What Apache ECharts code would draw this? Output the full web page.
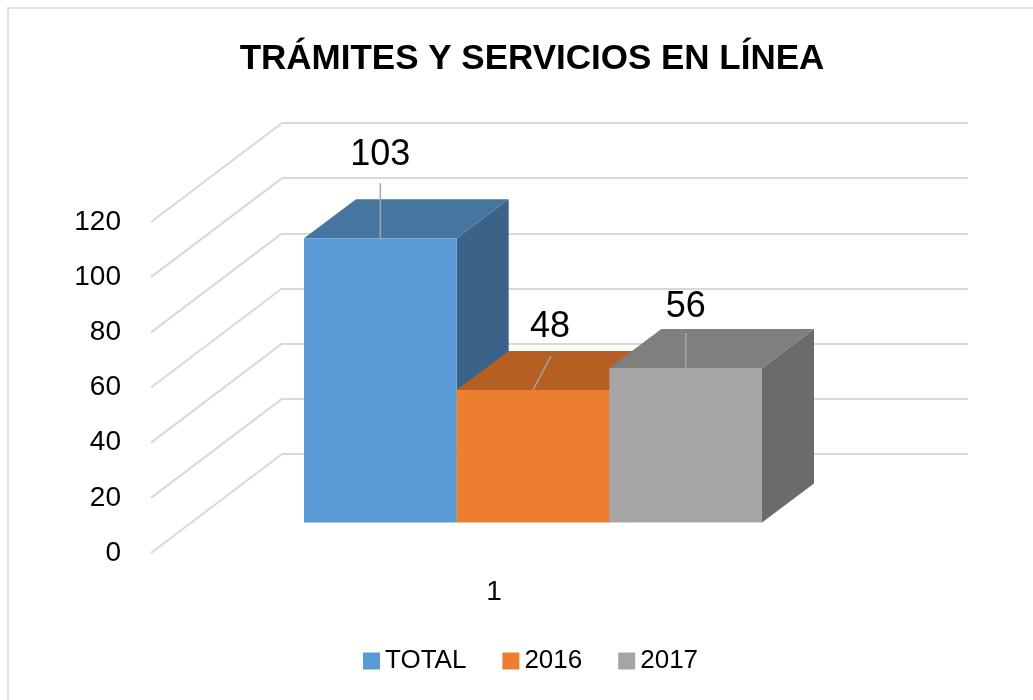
<!DOCTYPE html>
<html>
<head>
<meta charset="utf-8">
<script src="https://cdn.jsdelivr.net/npm/echarts@6/dist/echarts.min.js"></script>
<style>
  html, body { margin: 0; padding: 0; background: #ffffff; }
  #chart { width: 1033px; height: 700px; }
</style>
</head>
<body>
<div id="chart"></div>
<script>
// ---- data ----
const titleText = 'TRÁMITES Y SERVICIOS EN LÍNEA';
const categories = ['1'];
const seriesNames = ['TOTAL', '2016', '2017'];
const totalValues = [103];
const values2016 = [48];
const values2017 = [56];
const yTicks = [0, 20, 40, 60, 80, 100, 120];

// ---- styling / geometry (not data) ----
const FONT = "'Liberation Sans', Arial, sans-serif";
const WALL_DX = -131, WALL_DY = 99;   // back wall -> front edge of floor
const BAR_DX = 52, BAR_DY = -39;      // depth of a bar
const barStyles = [
  { front: '#5B9BD5', top: '#4675A0', side: '#3B6389', lead: [0, -55], label: [0, -83] },
  { front: '#ED7D31', top: '#B55F23', side: '#A9561F', lead: [18, -34], label: [17, -63] },
  { front: '#A5A5A5', top: '#7F7F7F', side: '#6B6B6B', lead: [0, -35], label: [0, -61] }
];
const seriesValues = [totalValues, values2016, values2017];

const chart = echarts.init(document.getElementById('chart'), null, { renderer: 'canvas' });

function barRenderer(k) {
  return function (params, api) {
    const st = barStyles[k];
    const base = api.coord([api.value(0), 0]);
    const top = api.coord([api.value(0), api.value(1)]);
    const band = api.size([1, 0])[0];
    const w = band / 3;
    const x0 = base[0] - band / 2 + k * w;
    const x1 = x0 + w;
    const yb = base[1];
    const yt = top[1];
    const cx = (x0 + x1) / 2;
    return {
      type: 'group',
      children: [
        { type: 'polygon', shape: { points: [[x1, yt], [x1 + BAR_DX, yt + BAR_DY], [x1 + BAR_DX, yb + BAR_DY], [x1, yb]] },
          style: { fill: st.side } },
        { type: 'polygon', shape: { points: [[x0, yt], [x0 + BAR_DX, yt + BAR_DY], [x1 + BAR_DX, yt + BAR_DY], [x1, yt]] },
          style: { fill: st.top } },
        { type: 'rect', shape: { x: x0, y: yt, width: w, height: yb - yt },
          style: { fill: st.front } },
        { type: 'line', shape: { x1: cx, y1: yt, x2: cx + st.lead[0], y2: yt + st.lead[1] },
          style: { stroke: '#a6a6a6', lineWidth: 1.5 } },
        { type: 'text', x: cx + st.label[0], y: yt + st.label[1],
          style: { text: String(api.value(1)), fontSize: 36, fontFamily: FONT, fill: '#000',
                   align: 'center', verticalAlign: 'middle' } }
      ]
    };
  };
}

const series = [
  {
    name: 'wall',
    type: 'custom',
    xAxisIndex: 0, yAxisIndex: 0,
    silent: true,
    data: yTicks.map(v => [0, v]),
    renderItem: function (params, api) {
      const p = api.coord([0, api.value(1)]);
      return { type: 'line', shape: { x1: p[0], y1: p[1], x2: p[0] + WALL_DX, y2: p[1] + WALL_DY },
               style: { stroke: '#d9d9d9', lineWidth: 2 } };
    }
  }
];
seriesNames.forEach((name, k) => {
  series.push({
    name: name,
    type: 'custom',
    xAxisIndex: 2, yAxisIndex: 2,
    silent: true,
    itemStyle: { color: barStyles[k].front },
    encode: { x: 0, y: 1 },
    data: seriesValues[k].map((v, i) => [categories[i], v]),
    renderItem: barRenderer(k)
  });
});

const option = {
  animation: false,
  backgroundColor: '#ffffff',
  color: barStyles.map(s => s.front),
  title: {
    text: titleText,
    left: 527, top: 37,
    textAlign: 'center',
    textStyle: { fontSize: 35, fontWeight: 'bold', fontFamily: FONT, color: '#000' }
  },
  legend: {
    data: seriesNames,
    icon: 'rect',
    itemWidth: 17, itemHeight: 17,
    itemGap: 36,
    left: 358, top: 643,
    textStyle: { fontSize: 26, fontFamily: FONT, color: '#000' }
  },
  graphic: [
    { type: 'rect', shape: { x: 8, y: 8, width: 1040, height: 720 },
      style: { fill: 'none', stroke: '#d9d9d9', lineWidth: 1.5 }, z: -10, silent: true }
  ],
  grid: [
    { left: 282, right: 65, top: 123, bottom: 246 },
    { left: 151, right: 196, top: 222, bottom: 147 },
    { left: 304, right: 271, top: 191.25, bottom: 177.5 }
  ],
  xAxis: [
    { gridIndex: 0, type: 'value', min: 0, max: 1, show: false },
    { gridIndex: 1, type: 'category', data: categories,
      axisLine: { show: false }, axisTick: { show: false },
      axisLabel: { fontSize: 28, fontFamily: FONT, color: '#000', margin: 25 } },
    { gridIndex: 2, type: 'category', data: categories, show: false }
  ],
  yAxis: [
    { gridIndex: 0, type: 'value', min: 0, max: 120, interval: 20,
      axisLabel: { show: false }, axisLine: { show: false }, axisTick: { show: false },
      splitLine: { show: true, lineStyle: { color: '#d9d9d9', width: 2 } } },
    { gridIndex: 1, type: 'value', min: 0, max: 120, interval: 20,
      axisLine: { show: false }, axisTick: { show: false }, splitLine: { show: false },
      axisLabel: { fontSize: 28, fontFamily: FONT, color: '#000', margin: 30 } },
    { gridIndex: 2, type: 'value', min: 0, max: 120, interval: 20, show: false,
      splitLine: { show: false } }
  ],
  series: series
};
chart.setOption(option);
</script>
</body>
</html>
